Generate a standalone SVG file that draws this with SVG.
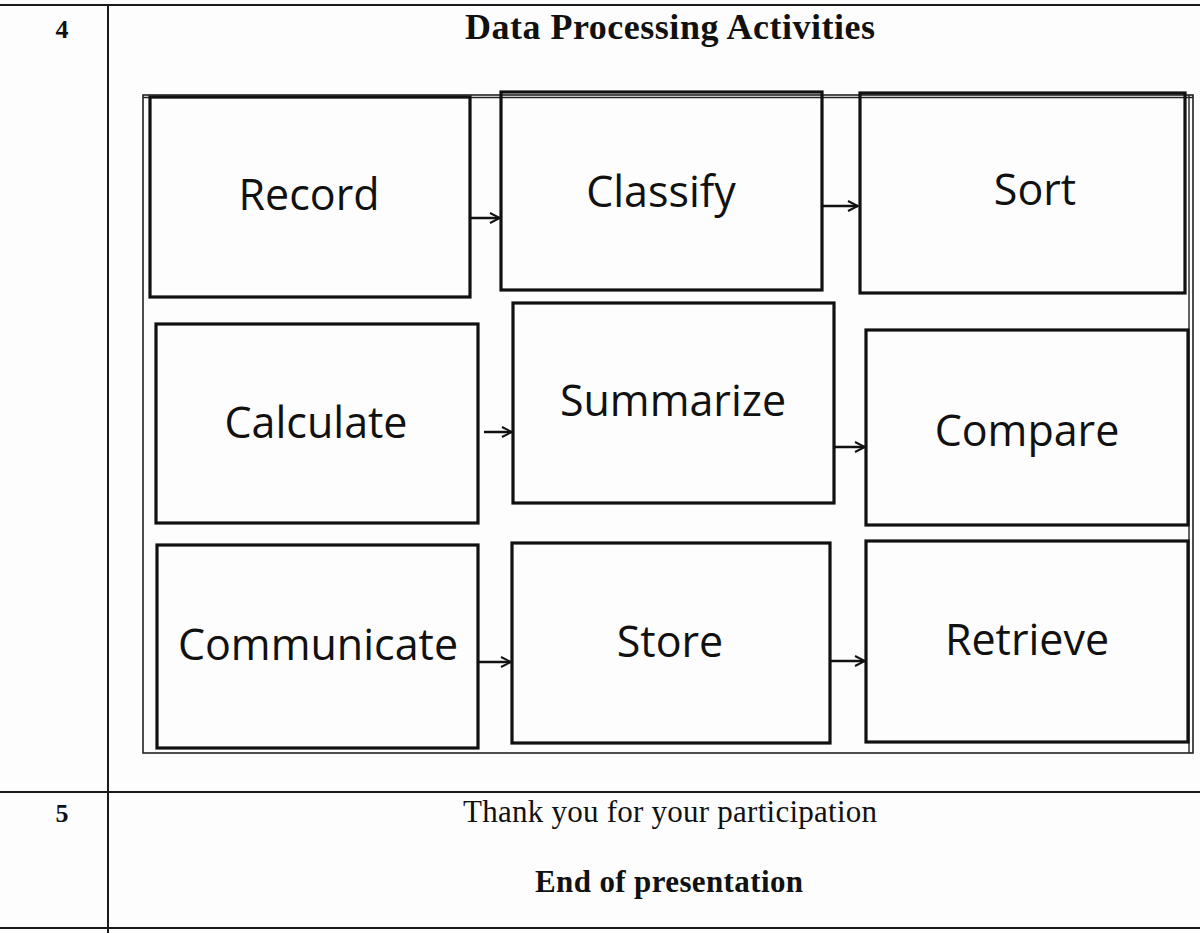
<svg xmlns="http://www.w3.org/2000/svg" width="1200" height="933" viewBox="0 0 1200 933">
<style>
.tbl{stroke:#1a1a1a;stroke-width:2;fill:none}
.box{fill:none;stroke:#111;stroke-width:3.2}
.lbl{font-family:"Open Sans","Noto Sans",sans-serif;font-size:43px;fill:#111;text-anchor:middle}
.ser{font-family:"Liberation Serif","Times New Roman",serif;fill:#111}
.b{font-weight:bold}
.con{stroke:#111;stroke-width:2.5;fill:none;marker-end:url(#ah)}
</style>
<defs>
<marker id="ah" viewBox="0 0 10 10" refX="9" refY="5" markerWidth="5" markerHeight="5" orient="auto" markerUnits="strokeWidth">
<path d="M1,1 L9,5 L1,9" fill="none" stroke="#111" stroke-width="1.6"/>
</marker>
</defs>
<rect width="1200" height="933" fill="#fdfdfd"/>
<g id="table">
<line class="tbl" x1="0" y1="5" x2="1200" y2="5"/>
<line class="tbl" x1="108" y1="5" x2="108" y2="933"/>
<line class="tbl" x1="0" y1="792" x2="1200" y2="792"/>
<line class="tbl" x1="0" y1="928" x2="1200" y2="928"/>
<text class="ser b" x="62" y="38" font-size="26" text-anchor="middle">4</text>
<text class="ser b" x="670" y="39" font-size="36" text-anchor="middle" textLength="410">Data Processing Activities</text>
<text class="ser b" x="62" y="822" font-size="26" text-anchor="middle">5</text>
<text class="ser" x="670" y="822" font-size="31" text-anchor="middle" textLength="414">Thank you for your participation</text>
<text class="ser b" x="669" y="892" font-size="31" text-anchor="middle" textLength="268">End of presentation</text>
</g>
<g id="frame">
<rect x="143" y="95" width="1050" height="658" fill="none" stroke="#222" stroke-width="1.6"/>
<line x1="143" y1="97.5" x2="1193" y2="97.5" stroke="#222" stroke-width="1.4"/>
<line x1="1189" y1="95" x2="1189" y2="753" stroke="#222" stroke-width="1.4"/>
</g>
<g id="record"><rect class="box" x="150" y="97" width="320" height="200"/><text class="lbl" x="309" y="210">Record</text></g>
<g id="classify"><rect class="box" x="501" y="92" width="321" height="198"/><text class="lbl" x="661" y="207">Classify</text></g>
<g id="sort"><rect class="box" x="860" y="93" width="325" height="200"/><text class="lbl" x="1035" y="205">Sort</text></g>
<g id="calculate"><rect class="box" x="156" y="324" width="322" height="199"/><text class="lbl" x="316" y="438">Calculate</text></g>
<g id="summarize"><rect class="box" x="513" y="303" width="321" height="200"/><text class="lbl" x="673" y="416">Summarize</text></g>
<g id="compare"><rect class="box" x="866" y="330" width="322" height="195"/><text class="lbl" x="1027" y="446">Compare</text></g>
<g id="communicate"><rect class="box" x="157" y="545" width="321" height="203"/><text class="lbl" x="318" y="660">Communicate</text></g>
<g id="store"><rect class="box" x="512" y="543" width="318" height="200"/><text class="lbl" x="670" y="657">Store</text></g>
<g id="retrieve"><rect class="box" x="866" y="541" width="322" height="201"/><text class="lbl" x="1027" y="655">Retrieve</text></g>
<g id="connectors">
<line class="con" x1="471" y1="218" x2="500" y2="218"/>
<line class="con" x1="823" y1="206" x2="858" y2="206"/>
<line class="con" x1="484" y1="432" x2="512" y2="432"/>
<line class="con" x1="835" y1="447" x2="865" y2="447"/>
<line class="con" x1="479" y1="662" x2="511" y2="662"/>
<line class="con" x1="831" y1="661" x2="865" y2="661"/>
</g>
</svg>
